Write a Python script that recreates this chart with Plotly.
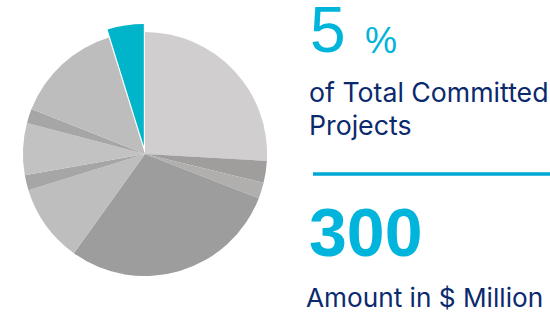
import plotly.graph_objects as go

slice_labels = ["A", "B", "C", "D", "E", "F", "G", "H", "I", "Committed"]
slice_values = [25.9, 2.9, 2.1, 29.0, 10.3, 2.0, 6.9, 1.9, 14.2, 4.8]
slice_colors = ["#d0cecf", "#a09d9d", "#b1aeae", "#9d9d9d", "#bebebe",
                "#a6a6a6", "#c2c2c2", "#a6a6a6", "#bdbdbd", "#00b5ca"]
slice_pull = [0, 0, 0, 0, 0, 0, 0, 0, 0, 0.065]

percent_text = "5"
amount_text = "300"

fig = go.Figure(go.Pie(
    labels=slice_labels, values=slice_values, sort=False,
    direction="clockwise", rotation=0,
    marker=dict(colors=slice_colors, line=dict(width=0)),
    pull=slice_pull, textinfo="none", hoverinfo="label+percent",
    domain=dict(x=[15/550, 275/550], y=[28/312, 288/312]),
    showlegend=False,
))

navy = "#0b2a6e"
cyan = "#00b4dc"
font = "Inter"
numfont = "Liberation Sans"

anns = [
    dict(text=percent_text, x=309, y=312-67, xanchor="left", yanchor="bottom",
         font=dict(size=64, color=cyan, family=numfont)),
    dict(text="%", x=364, y=312-62, xanchor="left", yanchor="bottom",
         font=dict(size=36, color=cyan, family=numfont)),
    dict(text="of Total Committed", x=308, y=312-109, xanchor="left", yanchor="bottom",
         font=dict(size=26.7, color=navy, family=font)),
    dict(text="Projects", x=308, y=312-142, xanchor="left", yanchor="bottom",
         font=dict(size=26.7, color=navy, family=font)),
    dict(text="<b>" + amount_text + "</b>", x=308, y=312-271, xanchor="left", yanchor="bottom",
         font=dict(size=68, color=cyan, family=numfont)),
    dict(text="Amount in $ Million", x=305, y=312-314, xanchor="left", yanchor="bottom",
         font=dict(size=26.2, color=navy, family=font)),
]
for a in anns:
    a.update(xref="paper", yref="paper", showarrow=False, borderpad=0)
    a["x"] = a["x"] / 550
    a["y"] = a["y"] / 312

fig.update_layout(
    width=550, height=312, margin=dict(l=0, r=0, t=0, b=0),
    paper_bgcolor="white", plot_bgcolor="white",
    annotations=anns,
    shapes=[dict(type="line", xref="paper", yref="paper",
                 x0=313/550, x1=1, y0=(312-174)/312, y1=(312-174)/312,
                 line=dict(color="#00a9d4", width=3.5))],
)
fig.write_html("out.html", config={"displayModeBar": False},
               post_script="document.body.style.margin='0';")
